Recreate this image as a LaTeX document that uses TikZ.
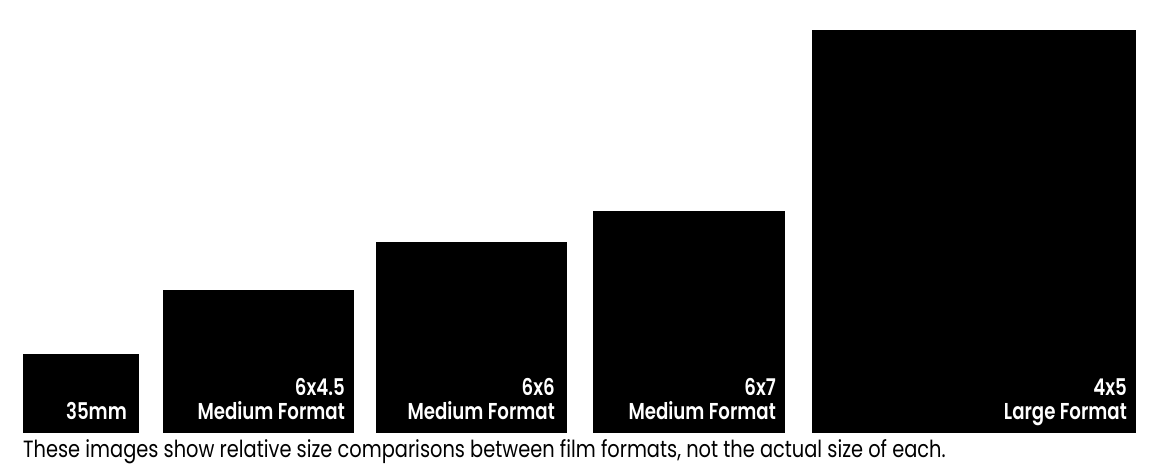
\documentclass[tikz,border=0pt]{standalone}
\usepackage{fontspec}
\setmainfont{Poppins}
\newfontfamily\captfont{Poppins}[FakeStretch=0.825]
\newfontfamily\labfont{Poppins SemiBold}[FakeStretch=0.79]
\begin{document}
\begin{tikzpicture}[x=1pt,y=-1pt,
  filmbox/.style={fill=black,draw=none,inner sep=0pt,outer sep=0pt,anchor=north west},
  filmlabel/.style={text=white,font=\labfont\fontsize{23}{23}\selectfont,anchor=base east,inner sep=0pt},
  capt/.style={font=\captfont\fontsize{23.5}{23.5}\selectfont,anchor=base west,inner sep=0pt}]
\useasboundingbox (0,0) rectangle (1160,475);
\node[filmbox,minimum width=116pt,minimum height=79pt] (b1) at (23,354) {};
\node[filmbox,minimum width=191pt,minimum height=143pt] (b2) at (163,290) {};
\node[filmbox,minimum width=191pt,minimum height=191pt] (b3) at (376,242) {};
\node[filmbox,minimum width=192pt,minimum height=222pt] (b4) at (593,211) {};
\node[filmbox,minimum width=324pt,minimum height=403pt] (b5) at (812,30) {};
\node[filmlabel] (l1) at (127,419) {35mm};
\node[filmlabel] (l2a) at (345,395) {6x4.5};
\node[filmlabel] (l2b) at (345,419) {Medium Format};
\node[filmlabel] (l3a) at (555,395) {6x6};
\node[filmlabel] (l3b) at (555,419) {Medium Format};
\node[filmlabel] (l4a) at (776,395) {6x7};
\node[filmlabel] (l4b) at (776,419) {Medium Format};
\node[filmlabel] (l5a) at (1127,395) {4x5};
\node[filmlabel] (l5b) at (1127,419) {Large Format};
\node[capt] (cap) at (23,457) {These images show relative size comparisons between film formats, not the actual size of each.};
\end{tikzpicture}
\end{document}
